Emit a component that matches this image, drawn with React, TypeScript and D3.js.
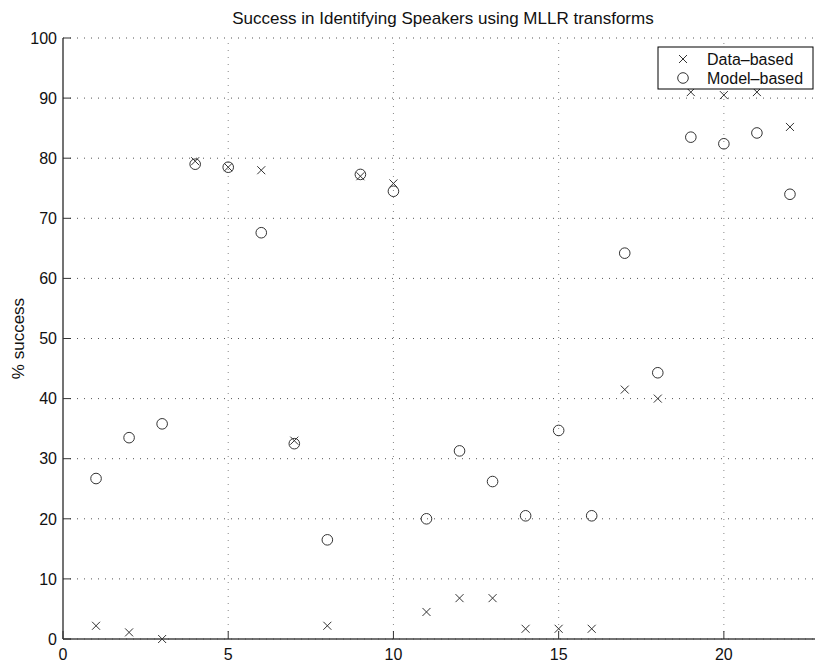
import React from "react";
import * as d3 from "d3";

const speakers = [1, 2, 3, 4, 5, 6, 7, 8, 9, 10, 11, 12, 13, 14, 15, 16, 17, 18, 19, 20, 21, 22];
const dataBased = [2.2, 1.1, 0, 79.5, 78.5, 78, 33, 2.2, 77, 75.8, 4.5, 6.8, 6.8, 1.7, 1.7, 1.7, 41.5, 40, 91, 90.5, 91, 85.2];
const modelBased = [26.7, 33.5, 35.8, 79, 78.5, 67.6, 32.5, 16.5, 77.3, 74.5, 20, 31.3, 26.2, 20.5, 34.7, 20.5, 64.2, 44.3, 83.5, 82.4, 84.2, 74];
const xTicks = [0, 5, 10, 15, 20];
const yTicks = [0, 10, 20, 30, 40, 50, 60, 70, 80, 90, 100];
const seriesNames = ["Data\u2013based", "Model\u2013based"];
const title = "Success in Identifying Speakers using MLLR transforms";
const yLabel = "% success";

const W = 815;
const H = 666;
const FONT = "'Liberation Sans', Arial, Helvetica, sans-serif";

export default function App() {
  const x = d3.scaleLinear().domain([0, 23]).range([63, 823]);
  const y = d3.scaleLinear().domain([0, 100]).range([639, 38]);
  const [x0, x1] = x.range();
  const [y0, y1] = y.range();
  const ink = "#333";
  const grid = "#555";

  const cross = (cx: number, cy: number, key: string) => (
    <g key={key} stroke={ink} strokeWidth={1}>
      <line x1={cx - 4} y1={cy - 4} x2={cx + 4} y2={cy + 4} />
      <line x1={cx - 4} y1={cy + 4} x2={cx + 4} y2={cy - 4} />
    </g>
  );

  return (
    <svg
      width={W}
      height={H}
      style={{ position: "absolute", left: 0, top: 0, background: "#fff" }}
      fontFamily={FONT}
    >
      <rect x={0} y={0} width={W} height={H} fill="#fff" />
      {/* grid */}
      {yTicks.map((t) => (
        <line key={"gy" + t} x1={x0} x2={x1} y1={y(t)} y2={y(t)} stroke={grid} strokeWidth={1} strokeDasharray="1 6" />
      ))}
      {xTicks.filter((t) => t !== 0).map((t) => (
        <line key={"gx" + t} x1={x(t)} x2={x(t)} y1={y0} y2={y1} stroke="#888" strokeWidth={1} strokeDasharray="1 6" />
      ))}
      {/* axes */}
      <line x1={x0} x2={x1} y1={y0} y2={y0} stroke="#444" strokeWidth={1.5} />
      <line x1={x0} x2={x0} y1={y0} y2={y1} stroke="#444" strokeWidth={1.5} />
      {yTicks.map((t) => (
        <g key={"ty" + t}>
          <line x1={x0} x2={x0 + 8} y1={y(t)} y2={y(t)} stroke="#333" strokeWidth={1} />
          <text x={x0 - 6} y={y(t)} dy="0.36em" textAnchor="end" fontSize={16} fill="#111">
            {t}
          </text>
        </g>
      ))}
      {xTicks.map((t) => (
        <g key={"tx" + t}>
          <line x1={x(t)} x2={x(t)} y1={y0} y2={y0 - 8} stroke="#333" strokeWidth={1} />
          <text x={x(t)} y={660} textAnchor="middle" fontSize={16} fill="#111">
            {t}
          </text>
        </g>
      ))}
      {/* title and label */}
      <text x={(x0 + x1) / 2} y={24} textAnchor="middle" fontSize={17} fill="#111">
        {title}
      </text>
      <text
        transform={`translate(24, ${(y0 + y1) / 2}) rotate(-90)`}
        textAnchor="middle"
        fontSize={17}
        fill="#111"
      >
        {yLabel}
      </text>
      {/* markers */}
      {speakers.map((s, i) => cross(x(s), y(dataBased[i]), "d" + s))}
      {speakers.map((s, i) => (
        <circle key={"m" + s} cx={x(s)} cy={y(modelBased[i])} r={5.3} fill="none" stroke={ink} strokeWidth={1} />
      ))}
      {/* legend */}
      <rect x={658} y={47} width={155} height={42} fill="#fff" stroke="#000" strokeWidth={1} />
      {cross(683, 59, "leg1")}
      <circle cx={683} cy={78} r={5.3} fill="none" stroke={ink} strokeWidth={1} />
      <text x={707} y={65} fontSize={16} fill="#111">
        {seriesNames[0]}
      </text>
      <text x={707} y={84} fontSize={16} fill="#111">
        {seriesNames[1]}
      </text>
    </svg>
  );
}
